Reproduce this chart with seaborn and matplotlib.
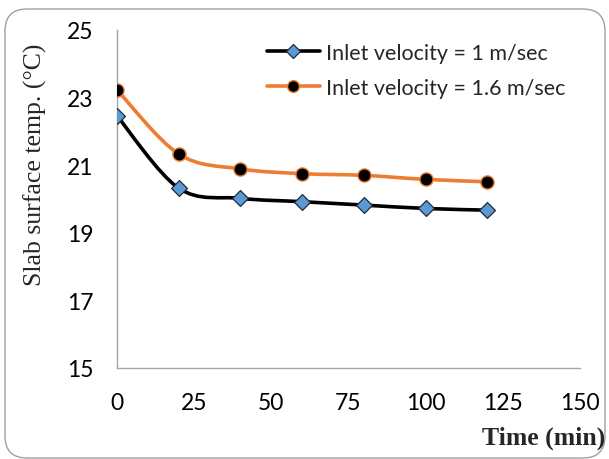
import numpy as np
import pandas as pd
import seaborn as sns
import matplotlib
matplotlib.use("Agg")
import matplotlib.pyplot as plt
from matplotlib.path import Path
from matplotlib.patches import PathPatch, FancyBboxPatch
from matplotlib.lines import Line2D
from matplotlib.transforms import IdentityTransform

# Slab surface temperature over time for two inlet velocities
time_min = [0, 20, 40, 60, 80, 100, 120]
temp_v1 = [22.46, 20.32, 20.02, 19.92, 19.82, 19.72, 19.67]
temp_v16 = [23.23, 21.33, 20.89, 20.75, 20.70, 20.58, 20.51]
series_labels = ["Inlet velocity = 1 m/sec", "Inlet velocity = 1.6 m/sec"]
x_ticks = [0, 25, 50, 75, 100, 125, 150]
y_ticks = [15, 17, 19, 21, 23, 25]

df = pd.DataFrame({
    "time": time_min * 2,
    "temp": temp_v1 + temp_v16,
    "series": [series_labels[0]] * len(time_min) + [series_labels[1]] * len(time_min),
})

sns.set_theme(style="white")
plt.rcParams["font.family"] = ["Lato", "DejaVu Sans"]

W, H, DPI = 609, 460, 100
fig = plt.figure(figsize=(W / DPI, H / DPI), dpi=DPI)
ax = fig.add_axes([117 / W, 1 - 369 / H, (580 - 117) / W, (369 - 31) / H])

BLACK = "#000000"
ORANGE = "#ED7D31"
BLUE = "#5B9BD5"


def smooth_path(xs, ys):
    """Cubic Bezier path through the points (Catmull-Rom style smoothing)."""
    pts = np.column_stack([xs, ys]).astype(float)
    n = len(pts)
    verts = [pts[0]]
    codes = [Path.MOVETO]
    for i in range(n - 1):
        p_prev = pts[i - 1] if i > 0 else pts[i]
        p0, p1 = pts[i], pts[i + 1]
        p_next = pts[i + 2] if i + 2 < n else pts[i + 1]
        c1 = p0 + (p1 - p_prev) / 6.0
        c2 = p1 - (p_next - p0) / 6.0
        verts += [c1, c2, p1]
        codes += [Path.CURVE4] * 3
    return Path(verts, codes)


for vals, col in [(temp_v1, BLACK), (temp_v16, ORANGE)]:
    ax.add_patch(PathPatch(smooth_path(time_min, vals), fill=False,
                           edgecolor=col, lw=2.6, capstyle="round",
                           joinstyle="round", zorder=2))

d1 = df[df["series"] == series_labels[0]]
d2 = df[df["series"] == series_labels[1]]
sns.scatterplot(data=d1, x="time", y="temp", marker="D", s=65, color=BLUE,
                edgecolor="#1f2a36", linewidth=0.9, ax=ax, zorder=3, legend=False)
sns.scatterplot(data=d2, x="time", y="temp", marker="o", s=90, color=BLACK,
                edgecolor=ORANGE, linewidth=1.0, ax=ax, zorder=3, legend=False)

ax.set_xlim(0, 150)
ax.set_ylim(15, 25)
ax.set_xticks(x_ticks)
ax.set_yticks(y_ticks)
ax.tick_params(axis="both", which="both", direction="out", length=7,
               width=1.0, color="#a6a6a6", labelsize=16.5, labelcolor="black")
ax.tick_params(axis="x", pad=10)
ax.tick_params(axis="y", pad=10)
for side in ["top", "right"]:
    ax.spines[side].set_visible(False)
for side in ["left", "bottom"]:
    ax.spines[side].set_color("#a6a6a6")
    ax.spines[side].set_linewidth(1.0)
ax.set_xlabel("")
ax.set_ylabel("")
ax.set_facecolor("white")

fig.text(35 / W, 1 - 165 / H, "Slab surface temp. (\u00b0C)", rotation=90,
         ha="center", va="center", fontsize=18.5, family="Liberation Serif")
fig.text(605 / W, 1 - 438 / H, "Time (min)", ha="right", va="center",
         fontsize=18.5, fontweight="bold", family="Liberation Serif")

handles = [
    Line2D([], [], color=BLACK, lw=2.6, marker="D", markersize=7,
           markerfacecolor=BLUE, markeredgecolor="#1f2a36", markeredgewidth=0.9),
    Line2D([], [], color=ORANGE, lw=2.6, marker="o", markersize=8.5,
           markerfacecolor=BLACK, markeredgecolor=ORANGE, markeredgewidth=1.0),
]
fig.legend(handles, series_labels, loc="upper left",
           bbox_to_anchor=(267 / W, 1 - 44 / H), frameon=False, fontsize=15.5,
           handlelength=2.45, handletextpad=0.3, labelspacing=0.68,
           borderpad=0, borderaxespad=0)

# rounded outer frame
frame = FancyBboxPatch((5, 1), 600, 449, boxstyle="round,pad=0,rounding_size=22",
                       transform=IdentityTransform(), fill=False,
                       edgecolor="#a0a0a0", lw=1.0)
fig.patches.append(frame)

fig.savefig("out.png", dpi=DPI, facecolor="white")
